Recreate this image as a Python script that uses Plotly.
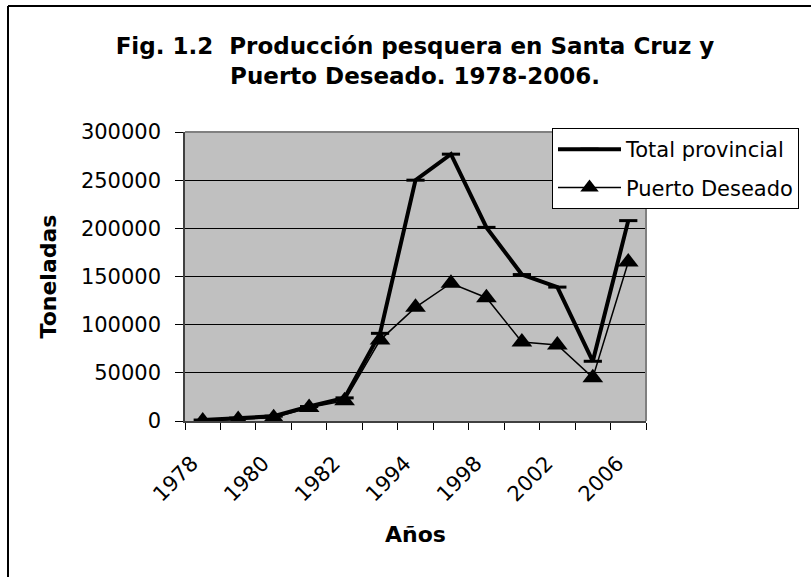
import plotly.graph_objects as go

years = ["1978", "1979", "1980", "1981", "1982", "1990", "1994", "1996",
         "1998", "2000", "2002", "2004", "2006"]
total_provincial = [1000, 3000, 5000, 15000, 24000, 91000, 250000, 277000,
                    201000, 152000, 139000, 62000, 208000]
puerto_deseado = [0, 1500, 3500, 14000, 21000, 84000, 118000, 143000,
                  128000, 82000, 79000, 45000, 165000]
label_years = ["1978", "1980", "1982", "1994", "1998", "2002", "2006"]
y_ticks = [0, 50000, 100000, 150000, 200000, 250000, 300000]

x_idx = list(range(len(years)))
label_pos = [years.index(y) - 0.3 for y in label_years]

W, H = 811, 577
L, R, T, B = 185, 165, 132, 156
pw, ph = W - L - R, H - T - B


def px_x(px):
    return (px - L) / pw


def px_y(py):
    return (H - B - py) / ph


font = "DejaVu Sans, Verdana, sans-serif"

fig = go.Figure()
fig.add_trace(go.Scatter(
    x=x_idx, y=total_provincial, name="Total provincial",
    legendgroup="a",
    mode="lines+markers",
    line=dict(color="black", width=4),
    marker=dict(symbol="line-ew", size=13, line=dict(color="black", width=3)),
))
fig.add_trace(go.Scatter(
    x=x_idx, y=puerto_deseado, name="Puerto Deseado",
    legendgroup="b",
    mode="lines+markers",
    line=dict(color="black", width=1.5),
    marker=dict(symbol="triangle-up", size=18, color="black"),
))

fig.update_layout(
    width=W, height=H,
    margin=dict(l=L, r=R, t=T, b=B, autoexpand=False),
    paper_bgcolor="white",
    plot_bgcolor="#C0C0C0",
    font=dict(family=font, size=21, color="black"),
    title=dict(
        text="<b>Fig. 1.2  Producción pesquera en Santa Cruz y<br>Puerto Deseado. 1978-2006.</b>",
        x=415 / W, xanchor="center", y=1 - 54 / H, yanchor="middle",
        font=dict(size=23, family=font),
    ),
    showlegend=True,
    legend=dict(
        x=px_x(552), y=px_y(128), xanchor="left", yanchor="top",
        bgcolor="white", bordercolor="black", borderwidth=1,
        font=dict(size=21, family=font),
        tracegroupgap=8, itemwidth=63,
    ),
    xaxis=dict(
        range=[-0.5, len(years) - 0.5],
        tickmode="array", tickvals=label_pos, ticktext=label_years,
        tickangle=-45, ticks="", showgrid=False, zeroline=False,
        showline=True, linecolor="#404040", linewidth=1.5,
        minor=dict(tickmode="array",
                   tickvals=[i - 0.5 for i in range(len(years) + 1)],
                   ticks="outside", ticklen=7, tickcolor="black", tickwidth=1,
                   showgrid=False),
        tickfont=dict(size=21),
        ticklabelstandoff=20,
        title=dict(text="<b>Años</b>", font=dict(size=22), standoff=21),
    ),
    yaxis=dict(
        range=[0, 300000],
        tickmode="array", tickvals=y_ticks,
        ticktext=[str(v) for v in y_ticks],
        ticks="outside", ticklen=8, tickcolor="black",
        showgrid=True, gridcolor="black", gridwidth=1,
        zeroline=False,
        showline=True, linecolor="#404040", linewidth=1.5,
        tickfont=dict(size=21),
        ticklabelstandoff=10,
        title=dict(text="<b>Toneladas</b>", font=dict(size=22), standoff=18),
    ),
    shapes=[
        dict(type="line", xref="paper", yref="paper", x0=0, x1=1, y0=1, y1=1,
             line=dict(color="#808080", width=2)),
        dict(type="line", xref="paper", yref="paper", x0=1, x1=1, y0=0, y1=1,
             line=dict(color="#808080", width=2)),
        dict(type="line", xref="paper", yref="paper",
             x0=px_x(8), x1=px_x(8), y0=px_y(6), y1=px_y(600),
             line=dict(color="black", width=2)),
        dict(type="line", xref="paper", yref="paper",
             x0=px_x(8), x1=px_x(830), y0=px_y(6), y1=px_y(6),
             line=dict(color="black", width=2)),
    ],
)

fig.write_html("out.html", config={"displayModeBar": False},
               post_script="document.body.style.margin='0px';")
